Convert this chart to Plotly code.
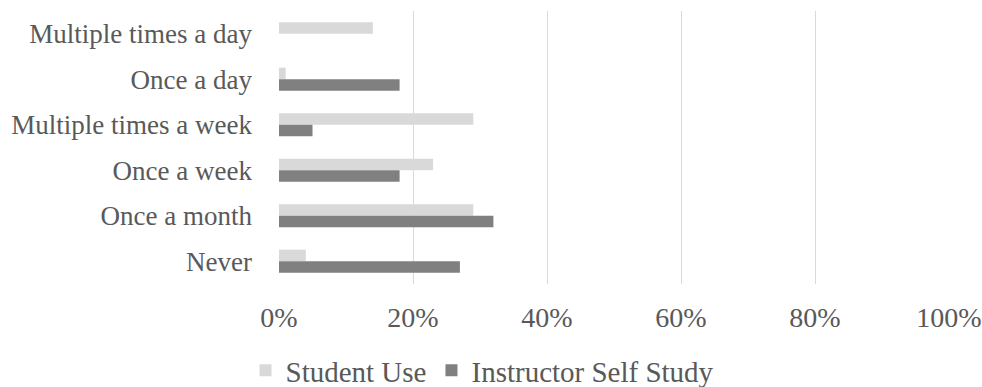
import plotly.graph_objects as go

categories = ["Multiple times a day", "Once a day", "Multiple times a week",
              "Once a week", "Once a month", "Never"]
student_use = [0.14, 0.01, 0.29, 0.23, 0.29, 0.04]
instructor_self_study = [0.0, 0.18, 0.05, 0.18, 0.32, 0.27]
x_ticks = [0, 0.2, 0.4, 0.6, 0.8, 1.0]
x_tick_labels = ["0%", "20%", "40%", "60%", "80%", "100%"]

FONT = "Liberation Serif"
TEXT = "#595959"

fig = go.Figure()
fig.add_trace(go.Bar(y=categories, x=student_use, orientation="h",
                     name="Student Use", marker_color="#d9d9d9",
                     marker_line_width=0))
fig.add_trace(go.Bar(y=categories, x=instructor_self_study, orientation="h",
                     name="Instructor Self Study", marker_color="#808080",
                     marker_line_width=0))

fig.update_layout(
    width=982, height=387,
    margin=dict(l=279, r=33, t=11, b=103, autoexpand=False),
    paper_bgcolor="white", plot_bgcolor="white",
    barmode="group", bargap=0.49, bargroupgap=0,
    font=dict(family=FONT, color=TEXT, size=27),
    legend=dict(orientation="h", x=-0.05, xanchor="left",
                yref="container", y=0.043, yanchor="middle",
                font=dict(family=FONT, size=29, color=TEXT),
                itemwidth=30, traceorder="normal"),
    showlegend=True,
)
fig.update_xaxes(range=[0, 1], tickvals=x_ticks, ticktext=x_tick_labels,
                 showgrid=True, gridcolor="#d9d9d9", gridwidth=1.3,
                 zeroline=False, showline=False, automargin=False,
                 tickfont=dict(family=FONT, size=28, color=TEXT),
                 ticklabelstandoff=14)
fig.update_yaxes(autorange="reversed", showgrid=False, showline=False,
                 automargin=False,
                 tickfont=dict(family=FONT, size=27, color=TEXT),
                 ticklabelstandoff=26)

fig.write_html("out.html")
